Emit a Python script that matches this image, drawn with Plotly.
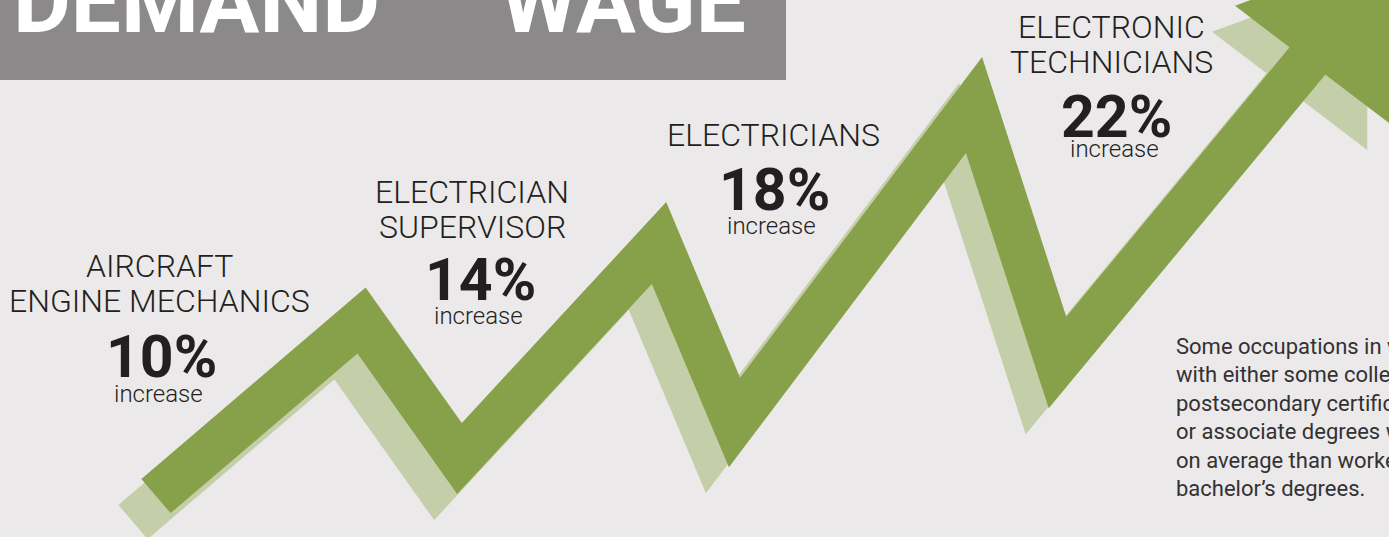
import plotly.graph_objects as go
import numpy as np

W, H = 1389, 537
BG = "#ebe9ea"
GREEN = "#87a04a"
SHADOW = "#c4cea9"
INK = "#231f20"
FONT = "Roboto"

# data
occupation_lines = [["AIRCRAFT", "ENGINE MECHANICS"],
                    ["ELECTRICIAN", "SUPERVISOR"],
                    ["ELECTRICIANS"],
                    ["ELECTRONIC", "TECHNICIANS"]]
growth_pct = [10, 14, 18, 22]
header_words = ["DEMAND", "WAGE"]
note_lines = ["Some occupations in which workers",
              "with either some college, a",
              "postsecondary certificate,",
              "or associate degrees will earn more",
              "on average than workers with",
              "bachelor\u2019s degrees."]

# centreline of the zig-zag arrow (canvas px, y down)
zig_x = [156, 361.5, 459.5, 659, 734.5, 974, 1057.5, 1307]
zig_y = [496, 320.5, 458.5, 243, 422.5, 105, 362.5, 61.5]

# label placement (canvas px)
label_x = [159, 472, 773, 1111]
label_y = [266, 192, 135, 26.5]      # first line
pct_x = [161, 480, 774, 1116]
pct_y = [356.5, 279, 189.5, 116.5]
inc_x = [158, 478, 771, 1114]
inc_y = [394, 315.5, 226, 149]


def band(xs, ys, half):
    p = np.column_stack([xs, ys]).astype(float)
    d = np.diff(p, axis=0)
    d /= np.linalg.norm(d, axis=1)[:, None]
    p[-1] += d[-1] * 3  # tuck under the arrow head
    nrm = np.column_stack([d[:, 1], -d[:, 0]])
    left, right = [], []
    for i in range(len(p)):
        if i == 0:
            m, k = nrm[0], half
        elif i == len(p) - 1:
            m, k = nrm[-1], half
        else:
            m = nrm[i - 1] + nrm[i]
            m = m / np.linalg.norm(m)
            k = half / np.dot(m, nrm[i])
        left.append(p[i] + k * m)
        right.append(p[i] - k * m)
    poly = np.array(left + right[::-1] + [left[0]])
    return poly[:, 0], poly[:, 1]


def head(xs, ys):
    base = np.array([xs[-1], ys[-1]], float)
    d = base - np.array([xs[-2], ys[-2]], float)
    d /= np.linalg.norm(d)
    n = np.array([d[1], -d[0]])
    pts = [base - 3 * d + 91 * n, base + 140 * d + 8 * n, base + 5 * d - 104 * n]
    pts.append(pts[0])
    pts = np.array(pts)
    return pts[:, 0], pts[:, 1]


fig = go.Figure()

bx, by = band(zig_x, zig_y, 22.5)
hx, hy = head(zig_x, zig_y)
dx, dy = -23, 26
for (px, py, col) in [(bx + dx, by + dy, SHADOW), (hx + dx, hy + dy, SHADOW),
                      (bx, by, GREEN), (hx, hy, GREEN)]:
    fig.add_trace(go.Scatter(x=px, y=py, mode="lines", fill="toself",
                             fillcolor=col, line=dict(width=0, color=col),
                             hoverinfo="skip"))

# grey header box
fig.add_shape(type="rect", x0=0, x1=786, y0=0, y1=80, xref="x", yref="y",
              fillcolor="#8b898a", line_width=0, layer="below")
for word, x0 in zip(header_words, [11, 498]):
    fig.add_annotation(x=x0, y=1, text=word, showarrow=False, xanchor="left",
                       yanchor="middle",
                       font=dict(family=FONT, size=89, color="white", weight=700))

for i, lines in enumerate(occupation_lines):
    for j, line in enumerate(lines):
        fig.add_annotation(x=label_x[i], y=label_y[i] + 35 * j, text=line,
                           showarrow=False, xanchor="center", yanchor="middle",
                           font=dict(family=FONT, size=32, color=INK, weight=300))
    fig.add_annotation(x=pct_x[i], y=pct_y[i], text="%d%%" % growth_pct[i],
                       showarrow=False, xanchor="center", yanchor="middle",
                       font=dict(family=FONT, size=59, color=INK, weight=700))
    fig.add_annotation(x=inc_x[i], y=inc_y[i], text="increase",
                       showarrow=False, xanchor="center", yanchor="middle",
                       font=dict(family=FONT, size=24, color=INK, weight=300))

for k, line in enumerate(note_lines):
    fig.add_annotation(x=1174, y=346 + 28.5 * k, text=line, showarrow=False,
                       xanchor="left", yanchor="middle",
                       font=dict(family=FONT, size=22, color="#333132"))

fig.update_layout(width=W, height=H, margin=dict(l=0, r=0, t=0, b=0),
                  paper_bgcolor=BG, plot_bgcolor=BG, showlegend=False)
fig.update_xaxes(range=[0, W], visible=False, fixedrange=True)
fig.update_yaxes(range=[H, 0], visible=False, fixedrange=True)

fig.write_html("out.html", config={"displayModeBar": False},
               post_script="document.body.style.margin='0';")
